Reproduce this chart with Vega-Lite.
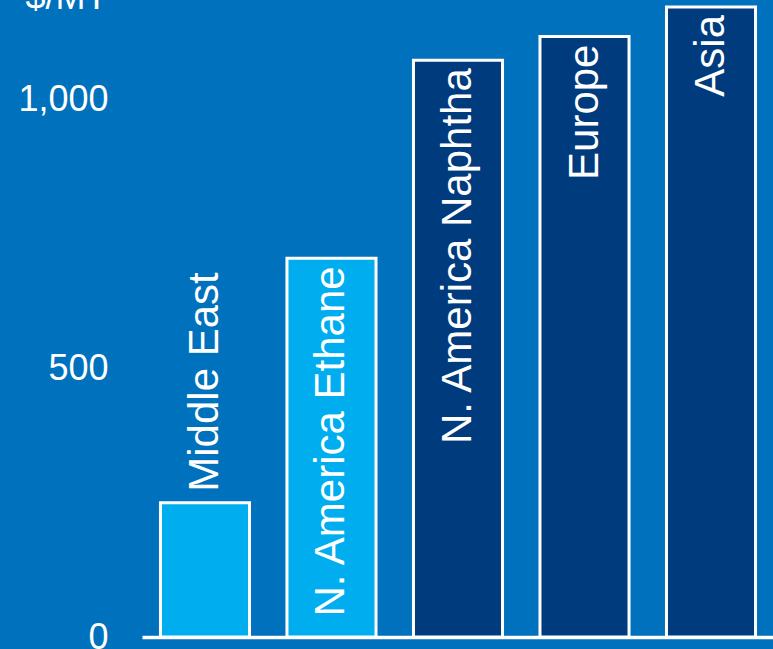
{
  "$schema": "https://vega.github.io/schema/vega-lite/v6.json",
  "width": 632,
  "height": 637,
  "autosize": {"type": "none"},
  "padding": {"left": 142, "top": 0, "right": 0, "bottom": 12},
  "background": "#0071BC",
  "config": {
    "view": {"stroke": null},
    "font": "Liberation Sans"
  },
  "data": {
    "values": [
      {"region": "Middle East", "cost": 250, "feedstock": "Ethane"},
      {"region": "N. America Ethane", "cost": 705, "feedstock": "Ethane"},
      {"region": "N. America Naphtha", "cost": 1074, "feedstock": "Naphtha"},
      {"region": "Europe", "cost": 1118, "feedstock": "Naphtha"},
      {"region": "Asia", "cost": 1173, "feedstock": "Naphtha"}
    ]
  },
  "encoding": {
    "x": {
      "field": "region",
      "type": "nominal",
      "sort": null,
      "scale": {"paddingInner": 0.296, "paddingOuter": 0.146},
      "axis": {
        "title": null,
        "labels": false,
        "ticks": false,
        "domainColor": "#FFFFFF",
        "domainWidth": 3.5
      }
    },
    "y": {
      "field": "cost",
      "type": "quantitative",
      "scale": {"domain": [0, 1186], "nice": false, "zero": true},
      "axis": {
        "title": "$/MT",
        "titleAngle": 0,
        "titleAlign": "left",
        "titleBaseline": "alphabetic",
        "titleX": -117,
        "titleY": 8,
        "titleFontSize": 36,
        "titleFontWeight": "normal",
        "titleColor": "#FFFFFF",
        "values": [0, 500, 1000],
        "format": ",d",
        "labelFontSize": 36,
        "labelColor": "#FFFFFF",
        "labelPadding": 34,
        "ticks": false,
        "tickSize": 0,
        "domain": false,
        "grid": false
      }
    }
  },
  "layer": [
    {
      "mark": {"type": "bar", "stroke": "#FFFFFF", "strokeWidth": 3},
      "encoding": {
        "color": {
          "field": "feedstock",
          "type": "nominal",
          "scale": {"domain": ["Ethane", "Naphtha"], "range": ["#00AEEF", "#003B7E"]},
          "legend": null
        }
      }
    },
    {
      "transform": [{"filter": "datum.region !== 'Middle East'"}],
      "mark": {
        "type": "text",
        "angle": 270,
        "align": "right",
        "baseline": "middle",
        "dx": -8,
        "fontSize": 42,
        "color": "#FFFFFF"
      },
      "encoding": {"text": {"field": "region"}}
    },
    {
      "transform": [{"filter": "datum.region === 'Middle East'"}],
      "mark": {
        "type": "text",
        "angle": 270,
        "align": "left",
        "baseline": "middle",
        "dx": 11,
        "fontSize": 42,
        "color": "#FFFFFF"
      },
      "encoding": {"text": {"field": "region"}}
    }
  ]
}
